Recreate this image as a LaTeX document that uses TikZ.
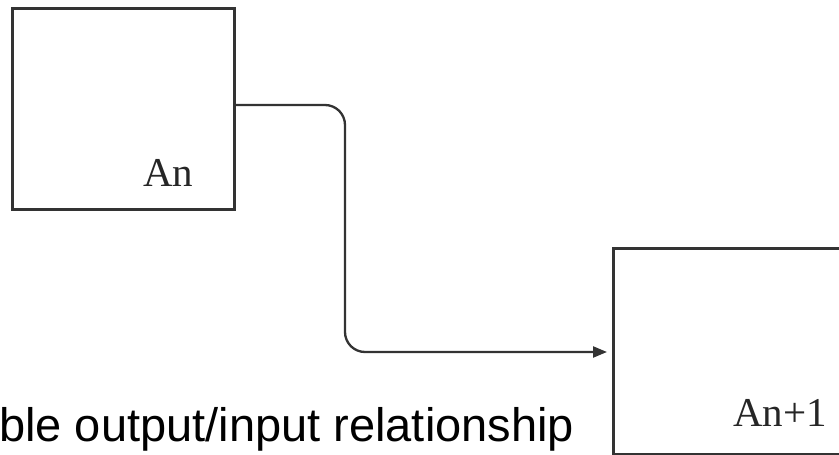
\documentclass[tikz,border=0pt]{standalone}
\usepackage{fontspec}
\setmainfont{Liberation Serif}
\newfontfamily\captionfont{Liberation Sans}
\usetikzlibrary{arrows.meta,calc}
\definecolor{linegray}{HTML}{333333}
\tikzset{
  blockbox/.style={draw=linegray, line width=2.8pt, fill=white, inner sep=0pt, anchor=north west},
  blocklabel/.style={anchor=base west, inner sep=0pt, font=\fontsize{41pt}{44pt}\selectfont, text=black!85},
  conn/.style={draw=linegray, line width=2.3pt, rounded corners=20pt, -{Triangle[length=14pt,width=11pt]}, shorten >=5pt},
  captiontext/.style={anchor=base west, inner sep=0pt, font=\captionfont\fontsize{47pt}{50pt}\selectfont, text=black}
}
\begin{document}
\begin{tikzpicture}[x=1pt,y=-1pt]
  \path[use as bounding box, clip] (0,0) rectangle (839,455);
  \fill[white] (0,0) rectangle (839,455);
  \node[blockbox, minimum width=222pt, minimum height=201pt] (box1) at (11,7) {};
  \node[blockbox, minimum width=260pt, minimum height=206pt] (box2) at (612,247) {};
  \node[blocklabel] (lab1) at (143,186) {An};
  \node[blocklabel] (lab2) at (733,426) {An+1};
  \coordinate (bendtop) at (345,105);
  \coordinate (bendbot) at (345,352);
  \draw[conn] (box1.east |- bendtop) -- (bendtop) -- (bendbot) -- (box2.west |- bendbot);
  \node[captiontext] (cap) at (-1,441) {ble output/input relationship};
\end{tikzpicture}
\end{document}
